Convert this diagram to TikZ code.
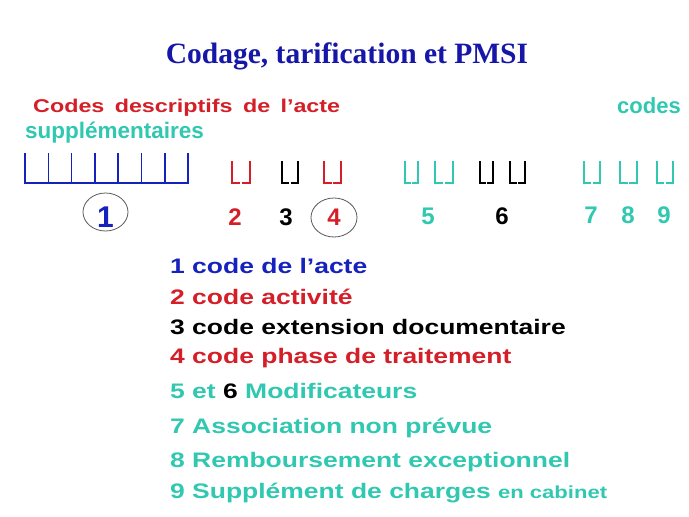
\documentclass[tikz,border=0pt]{standalone}
\usepackage{fontspec}
\setmainfont{Liberation Sans}
\newfontfamily\titlefont{Liberation Serif}
\newfontfamily\widefont[FakeStretch=1.26]{Liberation Sans}
\usetikzlibrary{shapes.geometric}
\definecolor{titleblue}{RGB}{22,22,168}
\definecolor{cblue}{RGB}{22,34,190}
\definecolor{cred}{RGB}{212,30,40}
\definecolor{cteal}{RGB}{48,200,176}
\definecolor{cgray}{RGB}{90,90,90}
\newcommand\slotcell[3]{% color, x1, x2
  \pgfmathsetmacro\xm{(#2+#3)/2}
  \draw[slotline,#1] (#2,\sltop) |- (\xm-0.8,\slbot) (\xm+0.8,\slbot) -| (#3,\sltop);}
\begin{document}
\begin{tikzpicture}[x=1pt,y=-1pt,
  txt/.style={inner sep=0pt, anchor=base west},
  num/.style={inner sep=0pt, anchor=base, font=\fontsize{24}{24}\selectfont\bfseries},
  legend/.style={inner sep=0pt, anchor=base west, font=\widefont\fontsize{21}{21}\selectfont\bfseries},
  slotline/.style={line width=1.3pt},
  oval/.style={draw=cgray, line width=0.8pt, ellipse, inner sep=0pt}]
\useasboundingbox (0,0) rectangle (689,517);
\fill[white] (0,0) rectangle (689,517);

% title
\node[inner sep=0pt, anchor=base, text=titleblue, font=\titlefont\fontsize{29.5}{30}\selectfont\bfseries] (title) at (347,63) {Codage, tarification et PMSI};

% header texts
\node[txt, text=cred, font=\widefont\fontsize{18.5}{20}\selectfont\bfseries] (hdr) at (33,112) {\makebox[307pt][s]{Codes descriptifs de l’acte}};
\node[txt, text=cteal, font=\fontsize{22}{22}\selectfont\bfseries] (codes) at (617,113) {codes};
\node[txt, text=cteal, font=\fontsize{22.5}{22}\selectfont\bfseries] (supp) at (25,138) {supplémentaires};

% slots
\def\sltop{153}\def\slbot{183}
\foreach \i in {0,...,6}{
  \pgfmathsetmacro\xa{25+\i*23.3}
  \pgfmathsetmacro\xb{25+(\i+1)*23.3}
  \draw[slotline, line width=1.5pt, cblue] (\xa,\sltop) |- (\xb,\slbot) -- (\xb,\sltop);
}
\def\sltop{161}\def\slbot{183}
\slotcell{cred}{232}{250}
\slotcell{black}{282}{298}
\slotcell{cred}{324}{341}
\slotcell{cteal}{405}{418}
\slotcell{cteal}{435}{453}
\slotcell{black}{480}{493}
\slotcell{black}{510}{525}
\slotcell{cteal}{584}{600}
\slotcell{cteal}{620}{637}
\slotcell{cteal}{657}{673}

% numbers
\node[num, text=cblue, font=\fontsize{30}{30}\selectfont\bfseries] (n1) at (105.5,227) {1};
\node[num, text=cred] (n2) at (235,225) {2};
\node[num, text=black] (n3) at (286,225) {3};
\node[num, text=cred] (n4) at (334,225) {4};
\node[num, text=cteal] (n5) at (428,224) {5};
\node[num, text=black] (n6) at (502,224) {6};
\node[num, text=cteal] (n7) at (591,223) {7};
\node[num, text=cteal] (n8) at (628,223) {8};
\node[num, text=cteal] (n9) at (664,223) {9};
\node[oval, minimum width=45pt, minimum height=38pt] (e1) at (105.5,212) {};
\node[oval, minimum width=46pt, minimum height=39pt] (e4) at (334,217.5) {};

% legend
\node[legend, text=cblue] (l1) at (170,273) {1 code de l’acte};
\node[legend, text=cred] (l2) at (170,304) {2 code activité};
\node[legend, text=black] (l3) at (170,334) {3 code extension documentaire};
\node[legend, text=cred] (l4) at (170,363) {4 code phase de traitement};
\node[legend, text=cteal] (l5) at (170,398) {5 et {\color{black}6} Modificateurs};
\node[legend, text=cteal] (l7) at (170,433) {7 Association non prévue};
\node[legend, text=cteal] (l8) at (170,467) {8 Remboursement exceptionnel};
\node[legend, text=cteal] (l9) at (170,498) {9 Supplément de charges {\fontsize{17.5}{18}\selectfont en cabinet}};
\end{tikzpicture}
\end{document}
